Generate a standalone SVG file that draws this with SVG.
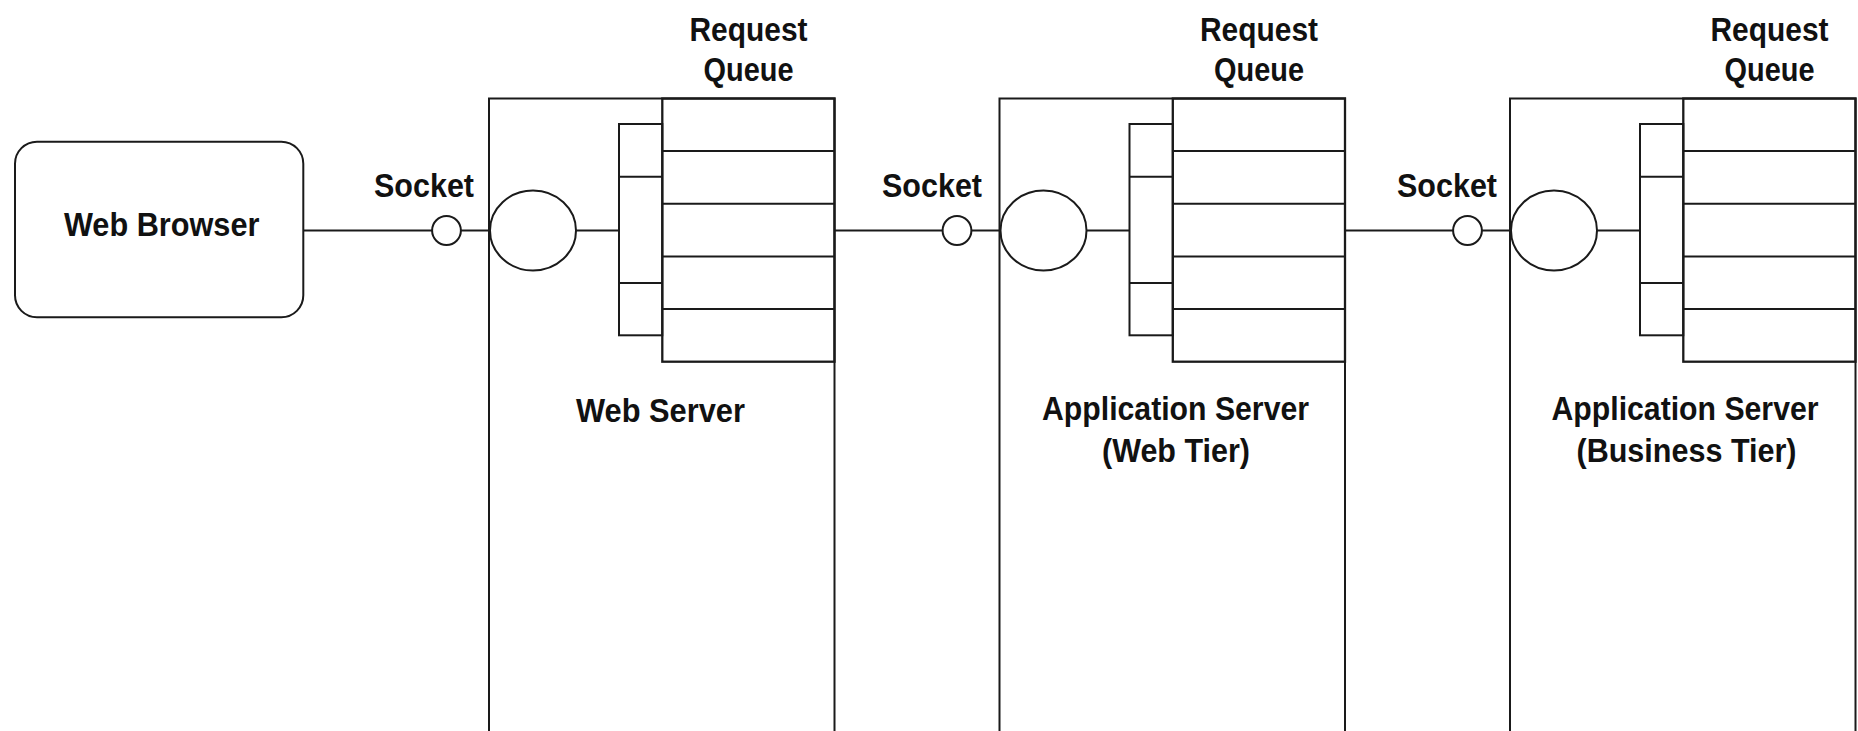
<svg xmlns="http://www.w3.org/2000/svg" width="1858" height="731" viewBox="0 0 1858 731">
<style>
.ln{fill:none;stroke:#1a1a1a;stroke-width:2}
.q{fill:none;stroke:#1a1a1a;stroke-width:2.3}
.sh{fill:#fff;stroke:#1a1a1a;stroke-width:2}
.t{font-family:"Liberation Sans",Arial,sans-serif;font-weight:bold;font-size:34px;fill:#111;text-anchor:middle}
</style>
<rect width="1858" height="731" fill="#fff"/>
<g id="connectors">
<line class="ln" x1="303" y1="230.5" x2="432" y2="230.5"/>
<line class="ln" x1="461" y1="230.5" x2="489" y2="230.5"/>
<line class="ln" x1="834.5" y1="230.5" x2="942.5" y2="230.5"/>
<line class="ln" x1="971.5" y1="230.5" x2="999.5" y2="230.5"/>
<line class="ln" x1="1345" y1="230.5" x2="1453" y2="230.5"/>
<line class="ln" x1="1482" y1="230.5" x2="1510" y2="230.5"/>
</g>
<g id="web-browser">
<rect class="sh" x="15" y="141.7" width="288.3" height="175.6" rx="22" ry="22"/>
<text class="t" x="161.7" y="236" textLength="195.5" lengthAdjust="spacingAndGlyphs">Web Browser</text>
</g>
<g id="socket-1">
<circle class="sh" cx="446.5" cy="230.5" r="14.4"/>
<text class="t" x="424" y="197" textLength="100" lengthAdjust="spacingAndGlyphs">Socket</text>
</g>
<g id="socket-2">
<circle class="sh" cx="957" cy="230.5" r="14.4"/>
<text class="t" x="932" y="197" textLength="100" lengthAdjust="spacingAndGlyphs">Socket</text>
</g>
<g id="socket-3">
<circle class="sh" cx="1467.5" cy="230.5" r="14.4"/>
<text class="t" x="1447" y="197" textLength="100" lengthAdjust="spacingAndGlyphs">Socket</text>
</g>
<defs>
<g id="srv">
<rect class="ln" x="0" y="98.5" width="345.5" height="650"/>
<ellipse class="sh" cx="44" cy="230.5" rx="43" ry="40"/>
<line class="ln" x1="87" y1="230.5" x2="130" y2="230.5"/>
<rect class="ln" x="130" y="124" width="43.3" height="211.3"/>
<line class="ln" x1="130" y1="176.8" x2="173.3" y2="176.8"/>
<line class="ln" x1="130" y1="283" x2="173.3" y2="283"/>
<rect class="q" x="173.3" y="98.5" width="172.2" height="263.2"/>
<line class="ln" x1="173.3" y1="151.1" x2="345.5" y2="151.1"/>
<line class="ln" x1="173.3" y1="203.8" x2="345.5" y2="203.8"/>
<line class="ln" x1="173.3" y1="256.4" x2="345.5" y2="256.4"/>
<line class="ln" x1="173.3" y1="309.1" x2="345.5" y2="309.1"/>
<text class="t" x="259.5" y="40.7" textLength="118" lengthAdjust="spacingAndGlyphs">Request</text>
<text class="t" x="259.5" y="81" textLength="90" lengthAdjust="spacingAndGlyphs">Queue</text>
</g>
</defs>
<g id="web-server" transform="translate(489,0)">
<use href="#srv"/>
<text class="t" x="171.5" y="421.5" textLength="169" lengthAdjust="spacingAndGlyphs">Web Server</text>
</g>
<g id="app-server-web" transform="translate(999.5,0)">
<use href="#srv"/>
<text class="t" x="176" y="420" textLength="267" lengthAdjust="spacingAndGlyphs">Application Server</text>
<text class="t" x="176.5" y="462" textLength="148" lengthAdjust="spacingAndGlyphs">(Web Tier)</text>
</g>
<g id="app-server-business" transform="translate(1510,0)">
<use href="#srv"/>
<text class="t" x="175" y="420" textLength="267" lengthAdjust="spacingAndGlyphs">Application Server</text>
<text class="t" x="176.5" y="462" textLength="220" lengthAdjust="spacingAndGlyphs">(Business Tier)</text>
</g>
</svg>
